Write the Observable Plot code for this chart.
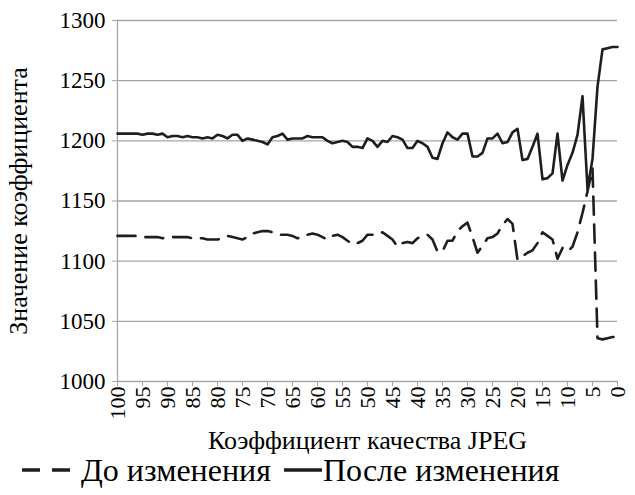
<!DOCTYPE html>
<html>
<head>
<meta charset="utf-8">
<script src="https://cdn.jsdelivr.net/npm/d3@7"></script>
<script src="https://cdn.jsdelivr.net/npm/@observablehq/plot@0.6"></script>
<style>
  body { margin: 0; background: #fff; font-family: "Liberation Serif", "Times New Roman", "DejaVu Serif", serif; }
  #chart { width: 635px; }
  #chart svg, #chart svg text { font-family: "Liberation Serif", "Times New Roman", "DejaVu Serif", serif !important; }
  .legend { position: relative; height: 40px; width: 635px; font-size: 32px; color: #000; }
  .legend .item { position: absolute; top: -3px; display: flex; align-items: center; height: 36px; }
  .legend svg { display: block; }
</style>
</head>
<body>
<div id="chart"></div>
<script>
// Quality factor (100 → 0)
const quality = d3.range(100, -1, -1);

// "До изменения" (before), values for quality 100, 99, ..., 0
const before = [
  1121, 1121, 1121, 1121, 1121, 1120, 1120, 1120, 1120, 1119,
  1120, 1120, 1120, 1120, 1120, 1119, 1119, 1119, 1118, 1118,
  1118, 1119, 1121, 1120, 1119, 1118, 1120, 1123, 1124, 1125,
  1125, 1124, 1122, 1122, 1122, 1121, 1119, 1120, 1122, 1123,
  1122, 1120, 1118, 1121, 1122, 1120, 1117, 1114, 1115, 1117,
  1122, 1122, 1122, 1124, 1121, 1118, 1112, 1115, 1116, 1115,
  1119, 1121, 1122, 1118, 1108, 1108, 1117, 1117, 1125, 1129,
  1132, 1120, 1107, 1113, 1119, 1120, 1123, 1130, 1135, 1131,
  1101, 1104, 1107, 1109, 1115, 1124, 1121, 1118, 1102, 1111,
  1108, 1112, 1124, 1140, 1158, 1177, 1036, 1035, 1036, 1037,
  1037
];

// "После изменения" (after), values for quality 100, 99, ..., 0
const after = [
  1206, 1206, 1206, 1206, 1206, 1205, 1206, 1206, 1205, 1206,
  1203, 1204, 1204, 1203, 1204, 1203, 1203, 1202, 1203, 1202,
  1205, 1204, 1202, 1205, 1205, 1200, 1202, 1201, 1200, 1199,
  1197, 1203, 1204, 1206, 1201, 1202, 1202, 1202, 1204, 1203,
  1203, 1203, 1200, 1198, 1199, 1200, 1199, 1195, 1195, 1194,
  1202, 1200, 1195, 1200, 1199, 1204, 1203, 1201, 1194, 1194,
  1200, 1198, 1195, 1186, 1185, 1198, 1207, 1203, 1201, 1206,
  1206, 1187, 1187, 1190, 1202, 1202, 1206, 1198, 1199, 1207,
  1210, 1184, 1185, 1195, 1206, 1168, 1169, 1173, 1206, 1167,
  1180, 1190, 1205, 1237, 1160, 1185, 1245, 1276, 1277, 1278,
  1278
];

const xTicks = d3.range(100, -1, -5);
const yTicks = [1000, 1050, 1100, 1150, 1200, 1250, 1300];
const xTitle = "Коэффициент качества JPEG";
const yTitle = "Значение коэффициента";
const seriesNames = ["До изменения", "После изменения"];

const rowsBefore = quality.map((q, i) => ({q, v: before[i]}));
const rowsAfter = quality.map((q, i) => ({q, v: after[i]}));

const grid = "#a6a6a6";
const ink = "#1e1e1e";
const serif = "'Liberation Serif', 'Times New Roman', 'DejaVu Serif', serif";

const plot = Plot.plot({
  width: 635,
  height: 455,
  marginTop: 20,
  marginLeft: 117,
  marginRight: 18,
  marginBottom: 74,
  style: {fontFamily: serif, fontSize: "23px", color: "#000", background: "#fff"},
  x: {domain: [100, 0], label: null},
  y: {domain: [1000, 1300], label: null},
  marks: [
    Plot.ruleY(yTicks, {stroke: grid, strokeWidth: 1.3}),
    Plot.ruleY(yTicks, {x1: 100, x2: 100, dx: -5, stroke: grid, strokeWidth: 1.3}),
    Plot.ruleX([100], {stroke: grid, strokeWidth: 1.3}),
    Plot.axisY({ticks: yTicks, tickFormat: d3.format("d"), tickSize: 5, stroke: grid, tickPadding: 7, label: null, fontSize: 23}),
    Plot.axisX({ticks: xTicks, tickFormat: d3.format("d"), tickSize: 5, stroke: grid, tickRotate: -90, tickPadding: 0, label: null, fontSize: 22}),
    Plot.line(rowsBefore, {x: "q", y: "v", stroke: ink, strokeWidth: 2.6, strokeDasharray: "18,10"}),
    Plot.line(rowsAfter, {x: "q", y: "v", stroke: ink, strokeWidth: 2.6}),
    Plot.text([xTitle], {frameAnchor: "bottom", lineAnchor: "middle", dy: 59, fontSize: 26, fill: "#000"}),
    Plot.text([yTitle], {frameAnchor: "left", textAnchor: "middle", lineAnchor: "middle", rotate: -90, dx: -99, fontSize: 26, fill: "#000"})
  ]
});
document.getElementById("chart").appendChild(plot);

// Legend
const legend = document.createElement("div");
legend.className = "legend";
legend.innerHTML = `
  <div class="item" style="left:20px">
    <svg width="56" height="10"><line x1="2" y1="5" x2="56" y2="5" stroke="${ink}" stroke-width="3.5" stroke-dasharray="18,12"/></svg>
    <span style="margin-left:5px">${seriesNames[0]}</span>
  </div>
  <div class="item" style="left:284px">
    <svg width="38" height="10"><line x1="0" y1="5" x2="38" y2="5" stroke="${ink}" stroke-width="3.5"/></svg>
    <span style="margin-left:1px">${seriesNames[1]}</span>
  </div>`;
document.body.appendChild(legend);
</script>
</body>
</html>
